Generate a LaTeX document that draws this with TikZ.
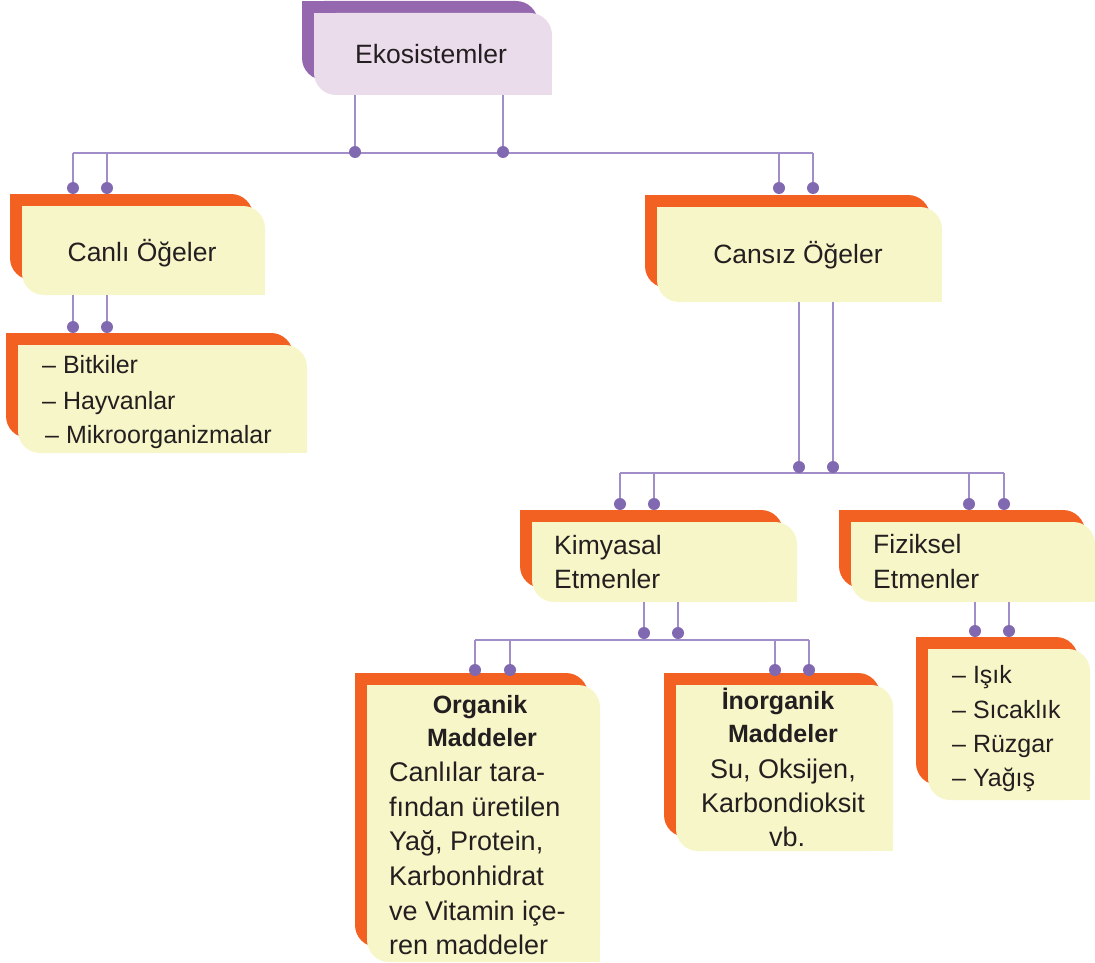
\documentclass[tikz,border=0pt]{standalone}
\usepackage{fontspec}
\setmainfont{Liberation Sans}
\usetikzlibrary{fit}

\definecolor{cardorange}{HTML}{F26122}
\definecolor{cardyellow}{HTML}{F7F6C8}
\definecolor{rootback}{HTML}{9467AE}
\definecolor{rootfront}{HTML}{EBDCEC}
\definecolor{wirecol}{HTML}{A18DC8}
\definecolor{knobcol}{HTML}{8169B1}
\definecolor{ink}{HTML}{231F20}

\pgfdeclarelayer{cards}
\pgfdeclarelayer{wires}
\pgfsetlayers{cards,wires,main}

% a plate with rounded top-right and bottom-left corners, square elsewhere
% #1 colour, #2 x1, #3 y1, #4 x2, #5 y2, #6 radius
\newcommand\plate[6]{%
  \fill[#1, rounded corners=#6pt] (#2,#3) rectangle (#4,#5);
  \fill[#1] (#2,#3) rectangle ({#2+#6},{#3+#6});
  \fill[#1] ({#4-#6},{#5-#6}) rectangle (#4,#5);
}
% a card: coloured back plate and a lighter front plate shifted by 12
% #1 name, #2 back colour, #3 front colour, #4 back left, #5 back top,
% #6 back right, #7 back bottom, #8 front right, #9 front bottom
\newcommand\card[9]{%
  \begin{pgfonlayer}{cards}
    \plate{#2}{#4}{#5}{#6}{#7}{22}
    \plate{#3}{#4+12}{#5+12}{#8}{#9}{22}
  \end{pgfonlayer}
  \coordinate (#1-a) at ({#4+12},{#5+12});
  \coordinate (#1-b) at (#8,#9);
  \node[fit=(#1-a)(#1-b), inner sep=0pt] (#1) {};
}

\tikzset{
  wire/.style={draw=wirecol, line width=1.6pt},
  bus/.style={draw=wirecol, line width=2pt},
  knob/.style={circle, fill=knobcol, inner sep=0pt, minimum size=12pt},
  lbl/.style={text=ink, inner sep=0pt, font=\fontsize{26.5}{32}\selectfont},
  item/.style={text=ink, inner sep=0pt, anchor=base west, font=\fontsize{25}{30}\selectfont},
  body/.style={text=ink, inner sep=0pt, font=\fontsize{27}{32}\selectfont},
  head/.style={text=ink, inner sep=0pt, anchor=base, font=\fontsize{25}{30}\selectfont\bfseries},
}

\begin{document}
\begin{tikzpicture}[x=1pt, y=-1pt]
\useasboundingbox (0,0) rectangle (1095,963);

% cards
\card{ekos}{rootback}{rootfront}{302}{1}{538}{80}{552}{95}
\card{canli}{cardorange}{cardyellow}{10}{194}{253}{280}{265}{295}
\card{canlilist}{cardorange}{cardyellow}{6}{333}{293}{438}{307}{453}
\card{cansiz}{cardorange}{cardyellow}{645}{195}{930}{288}{942}{302}
\card{kimya}{cardorange}{cardyellow}{520}{510}{783}{588}{797}{602}
\card{fizik}{cardorange}{cardyellow}{839}{510}{1085}{588}{1095}{602}
\card{fiziklist}{cardorange}{cardyellow}{916}{637}{1078}{785}{1090}{800}
\card{organik}{cardorange}{cardyellow}{355}{673}{588}{947}{600}{962}
\card{inorganik}{cardorange}{cardyellow}{664}{673}{880}{837}{893}{851}

% knobs
\node[knob] (E1) at (355,152) {};
\node[knob] (E2) at (503,152) {};
\node[knob] (C1) at (73,188) {};
\node[knob] (C2) at (107,188) {};
\node[knob] (S1) at (779,188) {};
\node[knob] (S2) at (813,188) {};
\node[knob] (B1) at (73,327) {};
\node[knob] (B2) at (107,327) {};
\node[knob] (T1) at (799,467) {};
\node[knob] (T2) at (833,467) {};
\node[knob] (K1) at (620,504) {};
\node[knob] (K2) at (654,504) {};
\node[knob] (F1) at (969,504) {};
\node[knob] (F2) at (1004,504) {};
\node[knob] (M1) at (644,633) {};
\node[knob] (M2) at (678,633) {};
\node[knob] (O1) at (475,670) {};
\node[knob] (O2) at (510,670) {};
\node[knob] (I1) at (775,670) {};
\node[knob] (I2) at (809,670) {};
\node[knob] (P1) at (975,631) {};
\node[knob] (P2) at (1009,631) {};

% bus levels
\coordinate (busA) at (0,153);
\coordinate (busB) at (0,473);
\coordinate (busC) at (0,640);

\begin{pgfonlayer}{wires}
  % Ekosistemler
  \draw[wire] (ekos.south -| E1) -- (E1);
  \draw[wire] (ekos.south -| E2) -- (E2);
  \draw[bus] (C1 |- busA) -- (S2 |- busA);
  \foreach \k in {C1,C2,S1,S2} \draw[wire] (\k |- busA) -- (\k);
  % Canli Ogeler
  \draw[wire] (canli.south -| B1) -- (B1);
  \draw[wire] (canli.south -| B2) -- (B2);
  % Cansiz Ogeler
  \draw[wire] (cansiz.south -| T1) -- (T1);
  \draw[wire] (cansiz.south -| T2) -- (T2);
  \draw[bus] (K1 |- busB) -- (F2 |- busB);
  \foreach \k in {K1,K2,F1,F2} \draw[wire] (\k |- busB) -- (\k);
  % Kimyasal Etmenler
  \draw[wire] (kimya.south -| M1) -- (M1);
  \draw[wire] (kimya.south -| M2) -- (M2);
  \draw[bus] (O1 |- busC) -- (I2 |- busC);
  \foreach \k in {O1,O2,I1,I2} \draw[wire] (\k |- busC) -- (\k);
  % Fiziksel Etmenler
  \draw[wire] (fizik.south -| P1) -- (P1);
  \draw[wire] (fizik.south -| P2) -- (P2);
\end{pgfonlayer}

% labels
\node[lbl, anchor=base] (tEkos) at (431,64) {Ekosistemler};
\node[lbl, anchor=base] (tCanli) at (142,261) {Canlı Öğeler};
\node[lbl, anchor=base] (tCansiz) at (798,263) {Cansız Öğeler};

\node[item] (tBit) at (42,373) {– Bitkiler};
\node[item] (tHay) at (42,409) {– Hayvanlar};
\node[item] (tMik) at (45,443) {– Mikroorganizmalar};

\node[lbl, anchor=base west] (tKim1) at (554,554) {Kimyasal};
\node[lbl, anchor=base west] (tKim2) at (554,588) {Etmenler};
\node[lbl, anchor=base west] (tFiz1) at (873,553) {Fiziksel};
\node[lbl, anchor=base west] (tFiz2) at (873,588) {Etmenler};

\node[item] (tIsik) at (952,683) {– Işık};
\node[item] (tSic) at (952,718) {– Sıcaklık};
\node[item] (tRuz) at (952,752) {– Rüzgar};
\node[item] (tYag) at (952,786) {– Yağış};

\node[head] (tOrg1) at (480,713) {Organik};
\node[head] (tOrg2) at (482,746) {Maddeler};
\node[body, anchor=base west] (tOrg3) at (389,781) {Canlılar tara-};
\node[body, anchor=base west] (tOrg4) at (389,816) {fından üretilen};
\node[body, anchor=base west] (tOrg5) at (389,850) {Yağ, Protein,};
\node[body, anchor=base west] (tOrg6) at (389,885) {Karbonhidrat};
\node[body, anchor=base west] (tOrg7) at (389,920) {ve Vitamin içe-};
\node[body, anchor=base west] (tOrg8) at (389,954) {ren maddeler};

\node[head] (tIno1) at (778,709) {İnorganik};
\node[head] (tIno2) at (783,742) {Maddeler};
\node[body, anchor=base] (tIno3) at (783,778) {Su, Oksijen,};
\node[body, anchor=base] (tIno4) at (783,812) {Karbondioksit};
\node[body, anchor=base] (tIno5) at (787,846) {vb.};
\end{tikzpicture}
\end{document}
